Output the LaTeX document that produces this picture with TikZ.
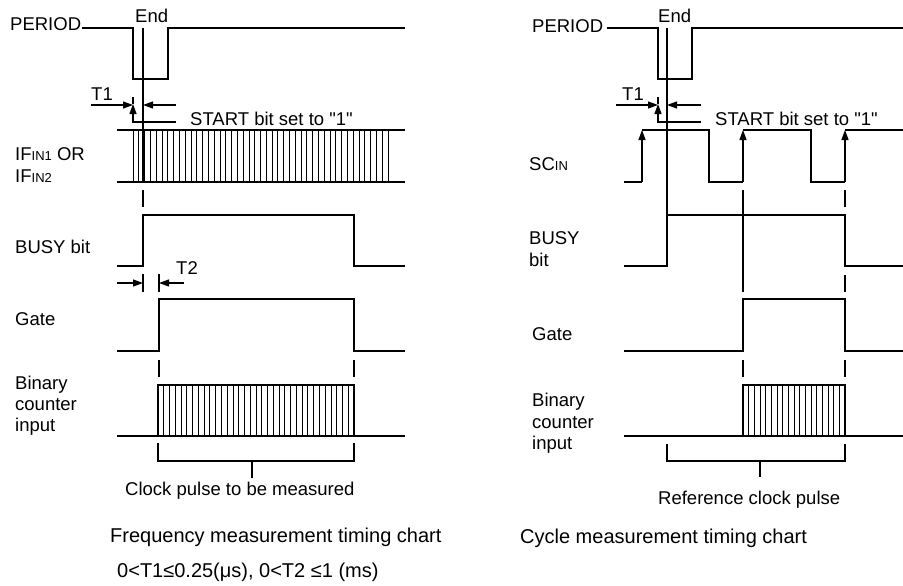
\documentclass[tikz,border=0pt]{standalone}
\usepackage{fontspec}
\setmainfont{Liberation Sans}[Ligatures=TeXOff]
\usetikzlibrary{arrows.meta}
\newcommand\lblfont{\fontsize{18.5}{21}\selectfont}
\newcommand\capfont{\fontsize{20}{23}\selectfont}
\newcommand\subsc[1]{{\fontsize{13}{13}\selectfont #1}}
\begin{document}
\begin{tikzpicture}[x=1pt,y=-1pt,
  wave/.style={line width=1.2pt},
  hatchline/.style={line width=0.8pt},
  arr/.style={line width=1.2pt,-{Triangle[length=10pt,width=7pt]}},
  lbl/.style={inner sep=0pt,anchor=base west,font=\lblfont},
  captext/.style={inner sep=0pt,anchor=base west,font=\capfont}]
\useasboundingbox (0,0) rectangle (903,586);

% ================= LEFT: frequency measurement =================
\node[lbl] (lperiod) at (10,31) {PERIOD};
\node[lbl] (lend) at (135,23) {End};
\node[lbl] (lt1) at (91,100) {T1};
\node[lbl] (lstart) at (190,125) {START bit set to "1"};
\node[lbl] (lif1) at (15,160) {IF\subsc{IN1} OR};
\node[lbl] (lif2) at (15,182) {IF\subsc{IN2}};
\node[lbl] (lbusy) at (15,253) {BUSY bit};
\node[lbl] (lt2) at (176,274) {T2};
\node[lbl] (lgate) at (15,325) {Gate};
\node[lbl] (lbin1) at (15,389) {Binary};
\node[lbl] (lbin2) at (15,410) {counter};
\node[lbl] (lbin3) at (15,431) {input};
\node[lbl] (lclock) at (125,495) {Clock pulse to be measured};
\node[captext] (lcap) at (110,542) {Frequency measurement timing chart};
\node[captext] (lcond) at (117,577) {0<T1≤0.25(μs), 0<T2 ≤1 (ms)};

% PERIOD
\draw[wave] (82,28) -- (133,28) -- (133,79) -- (168,79) -- (168,28) -- (405,28);
% End vertical
\draw[wave] (143,28) -- (143,182);
\draw[wave] (143,190) -- (143,207);
% T1
\draw[arr] (91,105) -- (133,105);
\draw[arr] (176,105) -- (143,105);
\draw[wave] (133,97) -- (133,104);
\draw[arr] (176,122) -- (133,122) -- (133,104);
% IF
\draw[wave] (117,130) -- (405,130);
\draw[wave] (117,182) -- (405,182);
\foreach \i in {0,...,44} \draw[hatchline] ({133+\i*255/44},130) -- ({133+\i*255/44},182);
% BUSY
\draw[wave] (117,266) -- (143,266) -- (143,215) -- (354,215) -- (354,266) -- (405,266);
% T2
\draw[arr] (117,283) -- (143,283);
\draw[arr] (184,283) -- (159,283);
\draw[wave] (143,274) -- (143,292);
\draw[wave] (159,274) -- (159,292);
% Gate
\draw[wave] (117,351) -- (159,351) -- (159,299) -- (354,299) -- (354,351) -- (405,351);
\draw[wave] (159,360) -- (159,377);
\draw[wave] (354,360) -- (354,377);
% Binary counter input
\draw[wave] (117,436) -- (405,436);
\draw[wave] (158,436) -- (158,385) -- (354,385) -- (354,436);
\foreach \i in {0,...,34} \draw[hatchline] ({158+\i*196/34},385) -- ({158+\i*196/34},436);
% bracket
\draw[wave] (158,443) -- (158,461) -- (354,461) -- (354,443);
\draw[wave] (252,461) -- (252,478);

% ================= RIGHT: cycle measurement =================
\node[lbl] (rperiod) at (532,33) {PERIOD};
\node[lbl] (rend) at (658,23) {End};
\node[lbl] (rt1) at (622,100) {T1};
\node[lbl] (rstart) at (715,125) {START bit set to "1"};
\node[lbl] (rsc) at (529,170) {SC\subsc{IN}};
\node[lbl] (rbusy1) at (529,244) {BUSY};
\node[lbl] (rbusy2) at (529,266) {bit};
\node[lbl] (rgate) at (532,340) {Gate};
\node[lbl] (rbin1) at (532,406) {Binary};
\node[lbl] (rbin2) at (532,428) {counter};
\node[lbl] (rbin3) at (532,449) {input};
\node[lbl] (rref) at (658,504) {Reference clock pulse};
\node[captext] (rcap) at (520,543) {Cycle measurement timing chart};

% PERIOD
\draw[wave] (607,28) -- (658,28) -- (658,79) -- (692,79) -- (692,28) -- (903,28);
% End vertical to BUSY rise
\draw[wave] (667,28) -- (667,266);
% T1
\draw[arr] (616,105) -- (658,105);
\draw[arr] (701,105) -- (667,105);
\draw[wave] (658,97) -- (658,104);
\draw[arr] (701,122) -- (658,122) -- (658,104);
% SCIN
\draw[wave] (624,182) -- (642,182);
\draw[arr] (642,182) -- (642,130);
\draw[wave] (642,130) -- (709,130) -- (709,182) -- (743,182);
\draw[arr] (743,182) -- (743,130);
\draw[wave] (743,130) -- (811,130) -- (811,182) -- (845,182);
\draw[arr] (845,182) -- (845,130);
\draw[wave] (845,130) -- (903,130);
% vertical guides
\draw[wave] (743,190) -- (743,292);
\draw[wave] (845,190) -- (845,207);
\draw[wave] (845,275) -- (845,292);
\draw[wave] (743,360) -- (743,377);
\draw[wave] (845,360) -- (845,377);
% BUSY
\draw[wave] (624,266) -- (667,266) -- (667,215) -- (845,215) -- (845,266) -- (903,266);
% Gate
\draw[wave] (624,351) -- (743,351) -- (743,299) -- (845,299) -- (845,351) -- (903,351);
% Binary counter input
\draw[wave] (624,436) -- (903,436);
\draw[wave] (743,436) -- (743,385) -- (845,385) -- (845,436);
\foreach \i in {0,...,18} \draw[hatchline] ({743+\i*102/18},385) -- ({743+\i*102/18},436);
% bracket
\draw[wave] (667,444) -- (667,461) -- (845,461) -- (845,444);
\draw[wave] (760,461) -- (760,477);
\end{tikzpicture}
\end{document}
